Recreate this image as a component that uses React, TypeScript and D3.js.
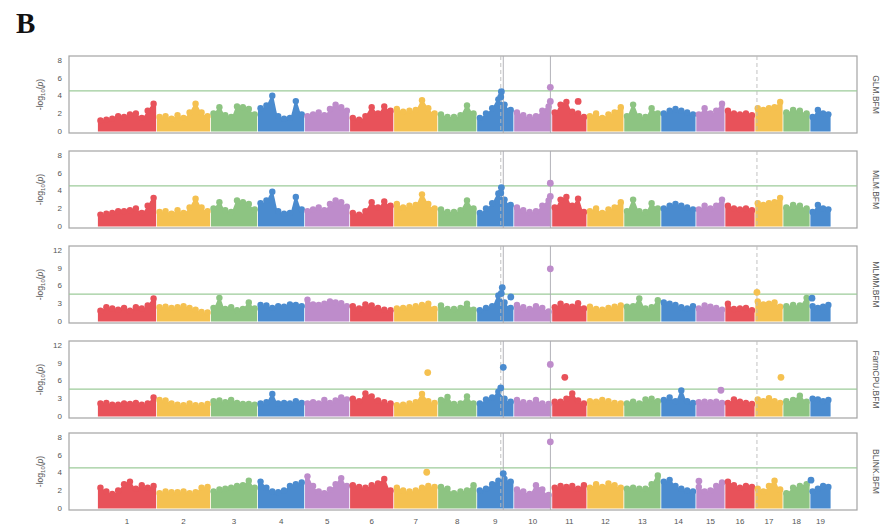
import React from "react";
import * as d3 from "d3";

// Chromosome names and their lengths (Mb) along the genome axis
const chromosomes = ["1", "2", "3", "4", "5", "6", "7", "8", "9", "10", "11", "12", "13", "14", "15", "16", "17", "18", "19"];
const chromLengths = [59, 54, 47, 47, 45, 44, 44, 39, 37, 38, 35, 37, 37, 35, 29, 30, 28, 27, 21];
const palette = ["#E8525A", "#F5C150", "#8DC482", "#4A8BCF", "#BE8CCB"];

const methods = ["GLM.BFM", "MLM.BFM", "MLMM.BFM", "FarmCPU.BFM", "BLINK.BFM"];
const yMaxes = [8, 8, 12, 12, 8];
const ticks8 = [0, 2, 4, 6, 8];
const ticks12 = [0, 3, 6, 9, 12];
const threshold = 4.5;

// Upper edge of the SNP cloud (-log10 p) sampled evenly along each chromosome
const glmTop = [
  [1.5, 1.6, 1.7, 2.0, 1.9, 2.2, 2.3, 1.8, 2.6, 3.4],
  [1.9, 2.0, 1.7, 2.1, 1.8, 2.4, 3.4, 2.4, 2.0],
  [2.3, 3.0, 2.1, 1.9, 3.1, 3.0, 2.8, 2.2],
  [2.9, 3.2, 4.3, 2.0, 1.7, 1.8, 3.7, 2.2],
  [2.0, 2.2, 2.4, 2.1, 2.8, 3.3, 3.0, 2.6],
  [1.8, 1.6, 2.0, 3.0, 2.3, 3.1, 2.6],
  [2.8, 2.5, 2.6, 2.7, 3.8, 2.9, 2.3],
  [2.2, 1.9, 1.9, 2.1, 3.2, 2.3],
  [1.8, 2.3, 2.9, 3.9, 3.3, 2.7],
  [2.4, 2.1, 1.9, 2.0, 2.6, 3.1],
  [2.4, 3.3, 3.6, 2.5, 2.3, 1.9],
  [2.0, 2.3, 1.8, 2.2, 2.4, 3.0],
  [2.0, 3.3, 2.0, 1.9, 2.9, 2.3],
  [2.3, 2.6, 2.8, 2.6, 2.4, 2.2],
  [2.2, 2.9, 2.3, 2.6, 3.4],
  [2.6, 2.3, 2.2, 2.3, 2.1],
  [2.9, 2.7, 2.9, 3.0, 3.6],
  [2.4, 2.7, 2.6, 2.3],
  [1.9, 2.7, 2.3, 2.2],
];
const mlmTop = [
  [1.6, 1.7, 1.8, 2.0, 2.0, 2.1, 2.3, 1.8, 2.6, 3.5],
  [1.9, 2.0, 1.7, 2.1, 1.8, 2.4, 3.4, 2.4, 2.0],
  [2.3, 3.0, 2.1, 1.9, 3.2, 3.0, 2.8, 2.2],
  [2.9, 3.2, 4.2, 2.0, 1.7, 1.8, 3.6, 2.2],
  [2.0, 2.2, 2.4, 2.1, 2.8, 3.2, 3.0, 2.5],
  [1.8, 1.6, 2.0, 3.0, 2.4, 3.1, 2.6],
  [2.8, 2.4, 2.6, 2.7, 3.9, 2.8, 2.3],
  [2.2, 1.9, 1.9, 2.1, 3.2, 2.3],
  [1.8, 2.3, 2.9, 4.0, 3.3, 2.7],
  [2.4, 2.1, 1.9, 2.0, 2.6, 3.2],
  [2.4, 3.3, 3.6, 2.6, 3.4, 1.9],
  [2.0, 2.3, 1.8, 2.2, 2.4, 3.0],
  [2.0, 3.3, 2.0, 1.9, 2.9, 2.3],
  [2.3, 2.6, 2.8, 2.6, 2.4, 2.2],
  [2.2, 2.6, 2.3, 2.6, 3.3],
  [2.6, 2.3, 2.2, 2.3, 2.1],
  [2.9, 2.7, 2.9, 3.0, 3.5],
  [2.4, 2.7, 2.6, 2.3],
  [1.9, 2.7, 2.3, 2.2],
];
const mlmmTop = [
  [2.2, 2.8, 2.6, 2.4, 2.7, 2.2, 2.8, 2.6, 3.1, 4.3],
  [2.8, 2.9, 2.7, 2.8, 3.0, 2.7, 2.4, 2.0, 1.9],
  [2.7, 4.4, 2.5, 2.8, 2.3, 2.5, 3.6, 2.6],
  [3.2, 3.1, 2.7, 3.0, 2.9, 3.3, 3.2, 3.0],
  [4.1, 3.3, 3.2, 3.4, 3.8, 3.6, 3.5, 3.0],
  [3.0, 2.6, 3.3, 3.1, 2.7, 2.4, 2.3],
  [2.6, 2.7, 2.8, 3.0, 3.2, 3.4, 2.5],
  [3.1, 2.5, 2.5, 2.7, 3.4, 2.4],
  [2.3, 2.7, 3.0, 4.8, 3.6, 2.7],
  [3.2, 2.8, 2.5, 3.0, 2.7, 2.1],
  [2.8, 3.4, 3.0, 2.9, 3.5, 2.6],
  [2.9, 2.5, 2.4, 2.7, 2.9, 3.1],
  [2.9, 3.0, 4.3, 2.6, 2.8, 4.0],
  [3.6, 3.4, 3.2, 2.8, 2.6, 3.0],
  [2.6, 3.1, 2.9, 2.7, 2.4],
  [3.4, 2.5, 2.6, 2.7, 2.3],
  [3.8, 3.3, 3.4, 3.6, 2.9],
  [3.0, 3.2, 3.1, 4.4],
  [3.0, 2.7, 2.9, 3.2],
];
const farmcpuTop = [
  [2.6, 2.7, 2.4, 2.4, 2.6, 2.5, 2.7, 2.4, 2.6, 3.6],
  [3.2, 3.1, 2.6, 2.4, 2.3, 2.6, 2.3, 2.3, 2.5],
  [3.0, 3.1, 2.8, 3.2, 2.7, 2.5, 2.5, 2.4],
  [2.6, 2.8, 4.2, 2.6, 2.7, 2.6, 3.0, 2.7],
  [2.6, 2.8, 2.6, 3.2, 2.7, 3.1, 3.6, 3.3],
  [3.4, 3.0, 4.3, 3.8, 3.1, 2.8, 2.6],
  [2.3, 2.4, 2.6, 2.8, 4.2, 3.0, 2.7],
  [3.2, 3.7, 2.5, 2.6, 3.8, 2.6],
  [2.6, 3.3, 3.6, 4.6, 3.4, 2.9],
  [3.2, 2.8, 2.7, 3.2, 2.6, 2.5],
  [2.9, 2.9, 3.4, 4.3, 3.1, 2.6],
  [3.0, 2.9, 3.2, 3.0, 2.7, 2.6],
  [2.6, 2.9, 2.6, 3.3, 3.4, 3.0],
  [3.2, 3.6, 3.0, 4.8, 3.0, 2.7],
  [2.8, 2.9, 2.8, 2.9, 2.7],
  [2.7, 3.3, 2.9, 2.7, 2.5],
  [3.3, 3.0, 3.5, 3.0, 2.7],
  [3.0, 3.2, 3.9, 2.9],
  [3.4, 3.3, 3.0, 3.2],
];
const blinkTop = [
  [2.6, 2.2, 1.9, 2.3, 3.0, 3.3, 2.5, 2.9, 2.6, 2.8],
  [2.0, 2.2, 2.1, 2.1, 2.2, 2.0, 2.1, 2.6, 2.7],
  [2.2, 2.4, 2.5, 2.6, 2.8, 2.9, 3.4, 2.6],
  [3.3, 2.6, 2.2, 2.1, 2.3, 2.8, 3.0, 3.2],
  [3.9, 2.8, 2.2, 2.0, 2.4, 3.0, 3.7, 2.8],
  [2.9, 2.7, 2.6, 2.9, 3.1, 3.6, 2.3],
  [2.6, 2.3, 2.2, 2.3, 2.6, 2.8, 2.7],
  [2.7, 2.5, 2.0, 2.2, 2.3, 2.9],
  [2.3, 2.5, 3.0, 3.4, 3.6, 3.3],
  [2.4, 2.2, 1.9, 2.9, 2.4, 1.8],
  [2.6, 2.8, 2.7, 2.8, 2.5, 2.9],
  [2.6, 3.0, 2.7, 3.1, 2.9, 2.6],
  [2.5, 2.6, 2.5, 2.5, 3.0, 4.0],
  [3.3, 3.5, 2.8, 2.5, 2.3, 2.2],
  [2.7, 2.2, 2.3, 2.8, 3.2],
  [3.3, 2.9, 2.6, 2.8, 2.7],
  [2.5, 2.2, 2.8, 3.4, 2.4],
  [2.0, 2.6, 2.8, 3.0],
  [2.2, 2.5, 2.8, 2.7],
];

// Individual SNPs standing out from the cloud: [chromosome, position (Mb), -log10 p]
const glmHits = [[9, 24.6, 4.4], [9, 24.0, 3.8], [10, 36.5, 4.9], [10, 36.5, 3.3], [11, 26.3, 3.3]];
const mlmHits = [[9, 24.6, 4.3], [9, 24.0, 3.7], [10, 36.5, 4.8], [10, 36.5, 3.3]];
const mlmmHits = [[9, 25.5, 5.6], [9, 24.5, 4.6], [9, 34, 4.0], [10, 36.5, 8.8], [17, 2, 4.8], [19, 2, 3.8]];
const farmcpuHits = [[7, 34, 7.3], [9, 26.5, 8.2], [9, 24, 4.7], [10, 36.5, 8.7], [11, 13, 6.5], [15, 25, 4.3], [17, 26, 6.5]];
const blinkHits = [[7, 33, 4.0], [9, 26.5, 3.85], [10, 36.5, 7.45], [15, 3, 3.0], [19, 1, 3.1]];

// Marker guide lines: [chromosome, position (Mb), dashed]
const guideLines: [number, number, boolean][] = [[9, 24, true], [9, 26.5, false], [10, 36.6, false], [17, 2, true]];

const panelTops = [56, 151, 246, 341, 433];
const panelTopsData = [glmTop, mlmTop, mlmmTop, farmcpuTop, blinkTop];
const panelHits = [glmHits, mlmHits, mlmmHits, farmcpuHits, blinkHits];

export default function App() {
  const W = 894;
  const H = 531;
  const frameX0 = 69;
  const frameX1 = 857;
  const panelH = 77;
  const r = 3.2;
  const total = d3.sum(chromLengths);
  const cum = Array.from(d3.cumsum(chromLengths));
  const starts = cum.map((c, i) => c - chromLengths[i]);
  const x = d3.scaleLinear().domain([0, total]).range([97.5, 831]);
  const font = "'Liberation Sans', Arial, sans-serif";

  return (
    <svg width={W} height={H} style={{ position: "absolute", left: 0, top: 0, background: "#fff" }} fontFamily={font}>
      <text x={16} y={33} fontFamily="'Liberation Serif', 'Times New Roman', serif" fontWeight="bold" fontSize={29} fill="#111">B</text>
      {methods.map((m, pi) => {
        const top = panelTops[pi];
        const bottom = top + panelH;
        const ymax = yMaxes[pi];
        const pad = ymax === 8 ? [-0.28, 8.45] : [-0.42, 12.68];
        const y = d3.scaleLinear().domain(pad).range([bottom, top]);
        const ticks = ymax === 8 ? ticks8 : ticks12;
        const area = d3
          .area<[number, number]>()
          .x((d) => x(d[0]))
          .y0(y(0) + 1)
          .y1((d) => y(d[1]) + r)
          .curve(d3.curveMonotoneX);
        const mid = (top + bottom) / 2;
        return (
          <g key={m}>
            <rect x={frameX0} y={top} width={frameX1 - frameX0} height={panelH} fill="#fff" stroke="#A4A4A4" strokeWidth={1.2} />
            <line x1={frameX0} x2={frameX1} y1={y(threshold)} y2={y(threshold)} stroke="#9DCB9A" strokeWidth={1.1} />
            {panelTopsData[pi].map((vals, ci) => {
              const len = chromLengths[ci];
              const s = starts[ci];
              const col = palette[ci % 5];
              const pts: [number, number][] = vals.map((v, j) => [s + ((j + 0.5) / vals.length) * len, v]);
              const edge: [number, number][] = [[s + 0.4, vals[0]], ...pts, [s + len - 0.4, vals[vals.length - 1]]];
              return (
                <g key={ci} fill={col}>
                  <path d={area(edge) || ""} />
                  {pts.map((p, j) => (
                    <circle key={j} cx={x(p[0])} cy={y(p[1]) + r} r={r} />
                  ))}
                </g>
              );
            })}
            {guideLines.map(([c, p, dashed], li) => {
              const gx = x(starts[c - 1] + p);
              return (
                <line
                  key={li}
                  x1={gx}
                  x2={gx}
                  y1={top}
                  y2={bottom}
                  stroke={dashed ? "#BDBDBD" : "#ABABB3"}
                  strokeWidth={1}
                  strokeDasharray={dashed ? "4,3" : undefined}
                  opacity={0.9}
                />
              );
            })}
            {panelHits[pi].map(([c, p, v], hi) => (
              <circle key={hi} cx={x(starts[c - 1] + p)} cy={y(v)} r={3.4} fill={palette[(c - 1) % 5]} />
            ))}
            {ticks.map((t) => (
              <text key={t} x={62} y={y(t) + 3} textAnchor="end" fontSize={8} fill="#555">
                {t}
              </text>
            ))}
            <text transform={`translate(43,${mid}) rotate(-90)`} textAnchor="middle" fontSize={8.5} fill="#555">
              -log
              <tspan fontSize={6} dy={2}>10</tspan>
              <tspan dy={-2}>(</tspan>
              <tspan fontStyle="italic">p</tspan>)
            </text>
            <text transform={`translate(873,${mid}) rotate(90)`} textAnchor="middle" fontSize={8.5} fill="#555">
              {m}
            </text>
          </g>
        );
      })}
      {chromosomes.map((c, i) => (
        <text key={c} x={x(starts[i] + chromLengths[i] / 2)} y={524} textAnchor="middle" fontSize={8} fill="#555">
          {c}
        </text>
      ))}
    </svg>
  );
}
